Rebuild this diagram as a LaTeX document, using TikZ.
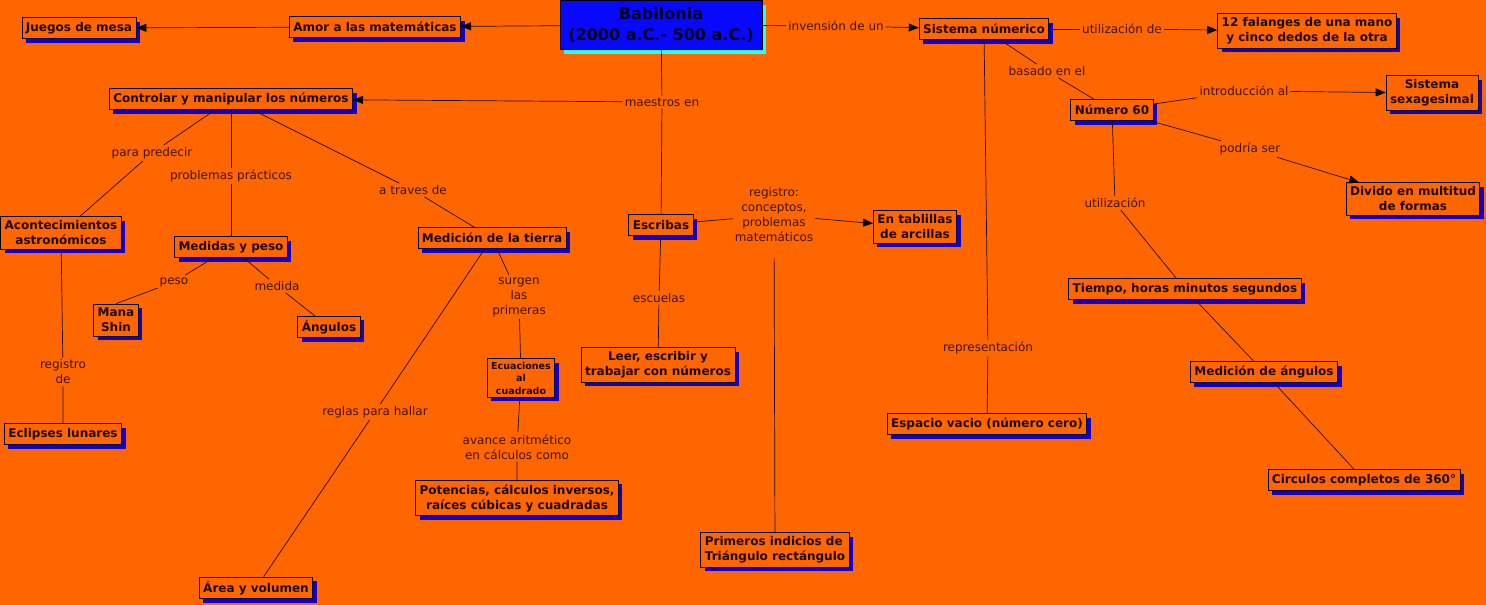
\documentclass[tikz,border=0pt]{standalone}
\usepackage{fontspec}
\setmainfont{DejaVu Sans}
\usetikzlibrary{arrows.meta,shadows}
\definecolor{fondo}{RGB}{255,102,0}
\definecolor{sombra}{RGB}{17,0,204}
\definecolor{azul}{RGB}{8,8,255}
\definecolor{cian}{RGB}{51,250,240}
\definecolor{textonodo}{RGB}{26,8,0}
\definecolor{textoenlace}{RGB}{60,20,0}
\definecolor{trazo}{RGB}{35,12,0}

\begin{document}
\begin{tikzpicture}[x=1pt,y=-1pt,
    concepto/.style={draw=black, fill=fondo, line width=0.8pt, inner xsep=4pt, inner ysep=4pt,
      minimum height=21pt, align=center, text=textonodo,
      font=\fontsize{12}{15}\selectfont\bfseries,
      drop shadow={shadow xshift=4pt, shadow yshift=-4pt, fill=sombra, opacity=1}},
    titulo/.style={concepto, fill=azul, minimum width=202pt, minimum height=49pt,
      font=\fontsize{16}{21}\selectfont\bfseries, text=black!90!blue,
      drop shadow={shadow xshift=4pt, shadow yshift=-4pt, fill=cian, opacity=1}},
    enlace/.style={inner sep=2pt, align=center, text=textoenlace,
      font=\fontsize{12}{15}\selectfont},
    linea/.style={draw=trazo, line width=0.7pt},
    flecha/.style={linea, -{Triangle[length=10pt,width=8pt,color=black]}}]

    \fill [fondo] (0,0) rectangle (1486,605);

    % conceptos
    \node [titulo] (babilonia) at (661,25) {Babilonia\\(2000 a.C.- 500 a.C.)};
    \node [concepto] (amor) at (375,27) {Amor a las matemáticas};
    \node [concepto] (juegos) at (79,28) {Juegos de mesa};
    \node [concepto] (sistema) at (984,29) {Sistema númerico};
    \node [concepto] (falanges) at (1307,31) {12 falanges de una mano\\y cinco dedos de la otra};
    \node [concepto] (controlar) at (231,99) {Controlar y manipular los números};
    \node [concepto] (numero) at (1112,110) {Número 60};
    \node [concepto] (sexagesimal) at (1432,93) {Sistema\\sexagesimal};
    \node [concepto] (divido) at (1413,199) {Divido en multitud\\de formas};
    \node [concepto] (acontecimientos) at (61,233) {Acontecimientos\\astronómicos};
    \node [concepto] (medidas) at (231,247) {Medidas y peso};
    \node [concepto] (tierra) at (492,238) {Medición de la tierra};
    \node [concepto] (escribas) at (661,225) {Escribas};
    \node [concepto] (tablillas) at (915,227) {En tablillas\\de arcillas};
    \node [concepto] (mana) at (116,320) {Mana\\Shin};
    \node [concepto] (angulos) at (329,327) {Ángulos};
    \node [concepto, font=\fontsize{9.5}{12.5}\selectfont\bfseries, inner ysep=3pt]
        (ecuaciones) at (521,378) {Ecuaciones\\al\\cuadrado};
    \node [concepto] (leer) at (658,365) {Leer, escribir y\\trabajar con números};
    \node [concepto] (tiempo) at (1185,289) {Tiempo, horas minutos segundos};
    \node [concepto] (medang) at (1264,372) {Medición de ángulos};
    \node [concepto] (espacio) at (987,424) {Espacio vacio (número cero)};
    \node [concepto] (eclipses) at (63,434) {Eclipses lunares};
    \node [concepto] (potencias) at (517,498) {Potencias, cálculos inversos,\\raíces cúbicas y cuadradas};
    \node [concepto] (circulos) at (1364,480) {Circulos completos de 360°};
    \node [concepto] (area) at (256,588) {Área y volumen};
    \node [concepto, align=left] (primeros) at (775,550) {Primeros indicios de\\Triángulo rectángulo};

    % enlaces
    \node [enlace] (linvension) at (836,26) {invensión de un};
    \node [enlace] (lutilde) at (1122,29) {utilización de};
    \node [enlace] (lmaestros) at (662,102) {maestros en};
    \node [enlace] (lpredecir) at (152,153) {para predecir};
    \node [enlace] (lproblemas) at (231,176) {problemas prácticos};
    \node [enlace] (ltraves) at (413,190) {a traves de};
    \node [enlace] (lpeso) at (174,282) {peso};
    \node [enlace] (lmedida) at (277,286) {medida};
    \node [enlace] (lregistrode) at (63,372) {registro\\de};
    \node [enlace] (lsurgen) at (519,297) {surgen\\las\\primeras};
    \node [enlace] (lreglas) at (375,412) {reglas para hallar};
    \node [enlace] (lavance) at (517,447) {avance aritmético\\en cálculos como};
    \node [enlace] (lregistro) at (774,215) {registro:\\conceptos,\\problemas\\matemáticos};
    \node [enlace] (lescuelas) at (659,298) {escuelas};
    \node [enlace] (lbasado) at (1047,71) {basado en el};
    \node [enlace] (lrepres) at (988,348) {representación};
    \node [enlace] (lintro) at (1244,91) {introducción al};
    \node [enlace] (lpodria) at (1250,149) {podría ser};
    \node [enlace] (lutil) at (1115,203) {utilización};

    % conectores
    \draw [flecha] (babilonia) -- (amor);
    \draw [flecha] (amor) -- (juegos);
    \draw [linea] (babilonia) -- (linvension);
    \draw [flecha] (linvension) -- (sistema);
    \draw [linea] (sistema) -- (lutilde);
    \draw [flecha] (lutilde) -- (falanges);
    \draw [linea] (babilonia) -- (lmaestros);
    \draw [flecha] (lmaestros) -- (controlar);
    \draw [linea] (lmaestros) -- (escribas);
    \draw [linea] (controlar) -- (lpredecir) -- (acontecimientos);
    \draw [linea] (controlar) -- (lproblemas) -- (medidas);
    \draw [linea] (controlar) -- (ltraves) -- (tierra);
    \draw [linea] (medidas) -- (lpeso) -- (mana.north);
    \draw [linea] (medidas) -- (lmedida) -- (angulos);
    \draw [linea] (acontecimientos) -- (lregistrode) -- (eclipses);
    \draw [linea] (tierra) -- (lsurgen) -- (ecuaciones);
    \draw [linea] (tierra) -- (lreglas) -- (area);
    \draw [linea] (ecuaciones) -- (lavance) -- (potencias);
    \draw [linea] (escribas) -- (lregistro);
    \draw [flecha] (lregistro) -- (tablillas);
    \draw [linea, shorten <=14pt] (lregistro) -- (primeros);
    \draw [linea] (escribas) -- (lescuelas) -- (leer);
    \draw [linea] (sistema) -- (lbasado) -- (numero);
    \draw [linea] (sistema) -- (lrepres) -- (espacio);
    \draw [linea] (numero) -- (lintro);
    \draw [flecha] (lintro) -- (sexagesimal);
    \draw [linea] (numero) -- (lpodria);
    \draw [flecha] (lpodria) -- (divido);
    \draw [linea] (numero) -- (lutil) -- (tiempo);
    \draw [linea] (tiempo) -- (medang);
    \draw [linea] (medang) -- (circulos);
\end{tikzpicture}
\end{document}
